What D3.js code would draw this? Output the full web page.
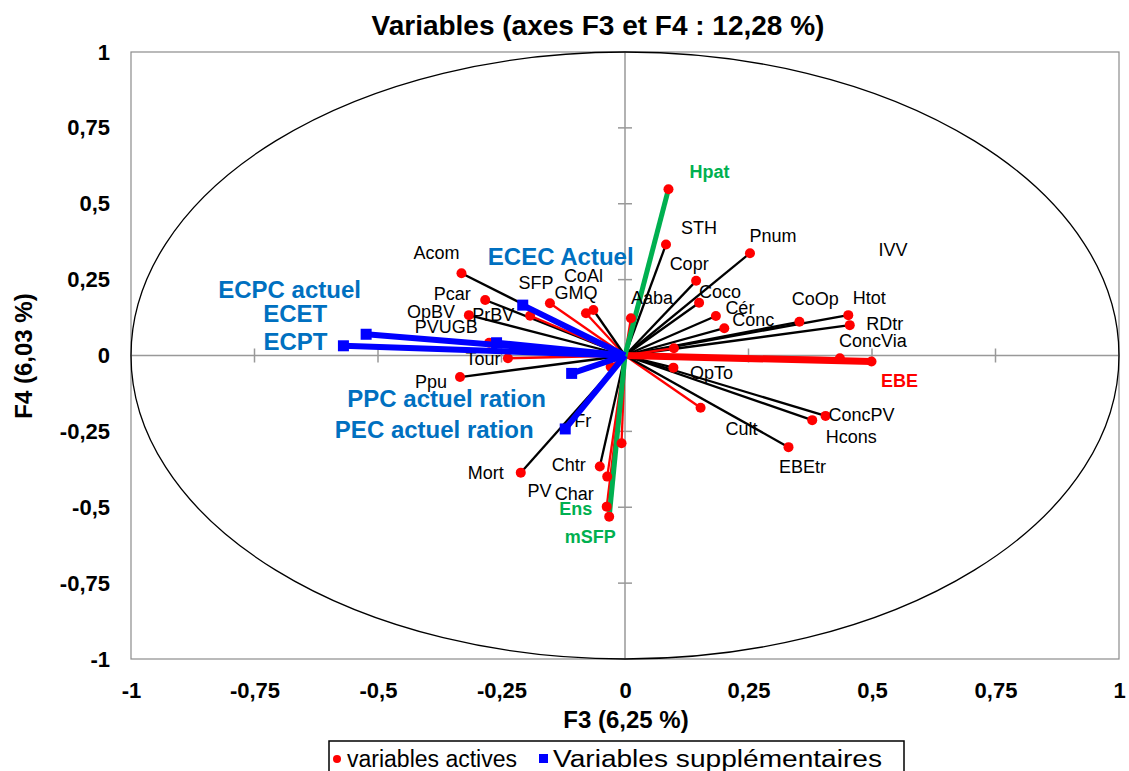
<!DOCTYPE html>
<html>
<head>
<meta charset="utf-8">
<script src="https://cdn.jsdelivr.net/npm/d3@7"></script>
<style>
  html, body { margin: 0; padding: 0; background: #fff; }
  svg { display: block; font-family: "Liberation Sans", Arial, sans-serif; }
</style>
</head>
<body>
<svg id="chart" width="1129" height="771"></svg>
<script>
// Correlation circle, factors F3 and F4
const chartTitle = "Variables (axes F3 et F4 : 12,28 %)";
const xTitle = "F3 (6,25 %)";
const yTitle = "F4 (6,03 %)";
const tickValues = [-1, -0.75, -0.5, -0.25, 0, 0.25, 0.5, 0.75, 1];

// Active variables: coordinates on F3 and F4
const activeNames = ["Acom", "Pcar", "OpBV", "PrBV", "PVUGB", "Tour", "Ppu", "SFP", "GMQ", "CoAl",
  "Aaba", "STH", "Pnum", "Copr", "Coco", "Cér", "Conc", "CoOp", "Htot", "RDtr",
  "ConcVia", "EBE", "IVV", "OpTo", "Cult", "EBEtr", "ConcPV", "Hcons", "Mort", "Chtr",
  "Char", "PV", "Ens", "mSFP", "Fr", "Hpat"];
const activeF3 = [-0.331, -0.283, -0.316, -0.192, -0.275, -0.237, -0.334, -0.152, -0.079, -0.064,
  0.012, 0.083, 0.253, 0.144, 0.150, 0.184, 0.201, 0.353, 0.452, 0.455,
  0.435, 0.499, 0.099, 0.098, 0.153, 0.331, 0.406, 0.379, -0.211, -0.051,
  -0.036, -0.007, -0.037, -0.032, -0.029, 0.088];
const activeF4 = [0.271, 0.183, 0.133, 0.131, 0.042, -0.009, -0.071, 0.172, 0.139, 0.150,
  0.123, 0.366, 0.337, 0.246, 0.174, 0.130, 0.090, 0.111, 0.133, 0.100,
  -0.009, -0.020, 0.024, -0.040, -0.172, -0.302, -0.199, -0.213, -0.386, -0.366,
  -0.399, -0.289, -0.498, -0.531, -0.037, 0.548];

// Supplementary variables: coordinates on F3 and F4
const suppNames = ["ECPT", "ECET", "ECPC actuel", "ECEC Actuel", "PPC actuel ration", "PEC actuel ration"];
const suppF3 = [-0.570, -0.524, -0.260, -0.207, -0.108, -0.121];
const suppF4 = [0.032, 0.070, 0.042, 0.166, -0.059, -0.242];

const legendLabels = ["variables actives", "Variables supplémentaires"];

// ---- styling and label placement ----
const redVectors = new Set(["PrBV", "PVUGB", "Tour", "SFP", "GMQ", "Aaba", "ConcVia", "IVV", "Cult", "Char", "PV", "Ens", "Fr"]);
const greenVectors = new Set(["Hpat", "mSFP"]);
const greenLabels = new Set(["Hpat", "Ens", "mSFP"]);
const emphasisRed = "EBE";

// label offsets from the point (pixels, label centre)
const labelOffset = {
  Acom: [-25, -20], Pcar: [-33, -6], OpBV: [-38, -3], PrBV: [-37, -1], PVUGB: [-43, -16],
  Tour: [-25, 1], Ppu: [-29, 5], SFP: [-14, -20], GMQ: [-10, -20], CoAl: [-10, -34],
  Aaba: [21, -20], STH: [33, -16], Pnum: [23, -17], Copr: [-7, -17], Coco: [21, -11],
  "Cér": [24, -8], Conc: [29, -8], CoOp: [16, -23], Htot: [21, -17], RDtr: [35, -1],
  ConcVia: [33, -17], EBE: [28, 19], IVV: [219, -98], OpTo: [38, 5], Cult: [41, 21],
  EBEtr: [14, 20], ConcPV: [36, -1], Hcons: [39, 17], Mort: [-35, 0], Chtr: [-31, -2],
  Char: [-33, 17], PV: [-82, 48], Ens: [-31, 2], mSFP: [-19, 20], Fr: [-28, 54], Hpat: [41, -17]
};
const suppOffset = {
  "ECPT": [-48, -4], "ECET": [-71, -21], "ECPC actuel": [-207, -53],
  "ECEC Actuel": [38, -49], "PPC actuel ration": [-125, 25], "PEC actuel ration": [-131, 1]
};

const active = activeNames.map((n, i) => ({ name: n, f3: activeF3[i], f4: activeF4[i] }));
const supp = suppNames.map((n, i) => ({ name: n, f3: suppF3[i], f4: suppF4[i] }));

const svg = d3.select("#chart");
const box = { left: 131, right: 1119, top: 52, bottom: 659 };
const x = d3.scaleLinear().domain([-1, 1]).range([box.left, box.right]);
const y = d3.scaleLinear().domain([-1, 1]).range([box.bottom, box.top]);

const locale = d3.formatLocale({ decimal: ",", thousands: " ", grouping: [3], currency: ["", ""], minus: "-" });
const fmt = locale.format("~g");

// title
svg.append("text").attr("x", 598).attr("y", 35).attr("text-anchor", "middle")
  .attr("font-weight", "bold").attr("font-size", 28).text(chartTitle);

// plot frame
svg.append("rect").attr("x", box.left).attr("y", box.top)
  .attr("width", box.right - box.left).attr("height", box.bottom - box.top)
  .attr("fill", "none").attr("stroke", "#8c8c8c").attr("stroke-width", 1.2);

// axes (labels only)
const xAxis = svg.append("g").attr("transform", `translate(0,${box.bottom})`)
  .call(d3.axisBottom(x).tickValues(tickValues).tickFormat(fmt).tickSize(0).tickPadding(23));
const yAxis = svg.append("g").attr("transform", `translate(${box.left},0)`)
  .call(d3.axisLeft(y).tickValues(tickValues).tickFormat(fmt).tickSize(0).tickPadding(21));
[xAxis, yAxis].forEach(g => {
  g.select(".domain").remove();
  g.selectAll("text").attr("font-size", 22).attr("font-weight", "bold")
    .attr("font-family", "Liberation Sans, Arial, sans-serif").attr("fill", "#000");
});

svg.append("text").attr("x", 626).attr("y", 728).attr("text-anchor", "middle")
  .attr("font-weight", "bold").attr("font-size", 24).text(xTitle);
svg.append("text").attr("transform", "translate(32,356) rotate(-90)").attr("text-anchor", "middle")
  .attr("font-weight", "bold").attr("font-size", 24).text(yTitle);

// zero lines with small cross ticks
const grid = svg.append("g").attr("stroke", "#999").attr("stroke-width", 1.5);
grid.append("line").attr("x1", x(-1)).attr("x2", x(1)).attr("y1", y(0)).attr("y2", y(0));
grid.append("line").attr("x1", x(0)).attr("x2", x(0)).attr("y1", y(-1)).attr("y2", y(1));
tickValues.filter(t => t !== 0 && Math.abs(t) !== 1).forEach(t => {
  grid.append("line").attr("x1", x(t)).attr("x2", x(t)).attr("y1", y(0) - 7).attr("y2", y(0) + 7);
  grid.append("line").attr("x1", x(0) - 7).attr("x2", x(0) + 7).attr("y1", y(t)).attr("y2", y(t));
});

// unit circle
svg.append("ellipse").attr("cx", x(0)).attr("cy", y(0))
  .attr("rx", x(1) - x(0)).attr("ry", y(0) - y(1))
  .attr("fill", "none").attr("stroke", "#000").attr("stroke-width", 1.3);

// active vectors
const lines = svg.append("g");
const thin = active.filter(d => !greenVectors.has(d.name) && d.name !== emphasisRed);
lines.selectAll("line.thin").data(thin).join("line").attr("class", "thin")
  .attr("x1", x(0)).attr("y1", y(0)).attr("x2", d => x(d.f3)).attr("y2", d => y(d.f4))
  .attr("stroke", d => redVectors.has(d.name) ? "#ff0000" : "#000")
  .attr("stroke-width", 2.3);
lines.selectAll("line.ebe").data(active.filter(d => d.name === emphasisRed)).join("line").attr("class", "ebe")
  .attr("x1", x(0)).attr("y1", y(0)).attr("x2", d => x(d.f3)).attr("y2", d => y(d.f4))
  .attr("stroke", "#ff0000").attr("stroke-width", 7);
lines.selectAll("line.green").data(active.filter(d => greenVectors.has(d.name))).join("line").attr("class", "green")
  .attr("x1", x(0)).attr("y1", y(0)).attr("x2", d => x(d.f3)).attr("y2", d => y(d.f4))
  .attr("stroke", "#00b050").attr("stroke-width", 5);

// active points
svg.append("g").selectAll("circle").data(active).join("circle")
  .attr("cx", d => x(d.f3)).attr("cy", d => y(d.f4)).attr("r", 5)
  .attr("fill", "#ff0000");

// active labels
const bold = d => greenLabels.has(d.name) || d.name === emphasisRed;
svg.append("g").selectAll("text").data(active).join("text")
  .attr("x", d => x(d.f3) + labelOffset[d.name][0])
  .attr("y", d => y(d.f4) + labelOffset[d.name][1])
  .attr("text-anchor", "middle").attr("dominant-baseline", "central")
  .attr("font-size", 18)
  .attr("font-weight", d => bold(d) ? "bold" : "normal")
  .attr("fill", d => greenLabels.has(d.name) ? "#00b050" : d.name === emphasisRed ? "#ff0000" : "#000")
  .text(d => d.name);

// supplementary vectors
svg.append("g").selectAll("line").data(supp).join("line")
  .attr("x1", x(0)).attr("y1", y(0)).attr("x2", d => x(d.f3)).attr("y2", d => y(d.f4))
  .attr("stroke", "#0000ff").attr("stroke-width", 6);
svg.append("g").selectAll("rect").data(supp).join("rect")
  .attr("x", d => x(d.f3) - 5.5).attr("y", d => y(d.f4) - 5.5).attr("width", 11).attr("height", 11)
  .attr("fill", "#0000ff");
svg.append("g").selectAll("text").data(supp).join("text")
  .attr("x", d => x(d.f3) + suppOffset[d.name][0])
  .attr("y", d => y(d.f4) + suppOffset[d.name][1])
  .attr("text-anchor", "middle").attr("dominant-baseline", "central")
  .attr("font-size", 24).attr("font-weight", "bold").attr("fill", "#0070c0")
  .text(d => d.name);

// legend
const lg = svg.append("g");
lg.append("rect").attr("x", 329).attr("y", 741).attr("width", 575).attr("height", 40)
  .attr("fill", "#fff").attr("stroke", "#000").attr("stroke-width", 1.5);
lg.append("circle").attr("cx", 337).attr("cy", 759).attr("r", 4).attr("fill", "#ff0000");
lg.append("text").attr("x", 347).attr("y", 767).attr("font-size", 23).text(legendLabels[0]);
lg.append("rect").attr("x", 539).attr("y", 754).attr("width", 9).attr("height", 9).attr("fill", "#0000ff");
lg.append("text").attr("x", 553).attr("y", 767).attr("font-size", 23)
  .attr("textLength", 329).attr("lengthAdjust", "spacingAndGlyphs").text(legendLabels[1]);
</script>
</body>
</html>
